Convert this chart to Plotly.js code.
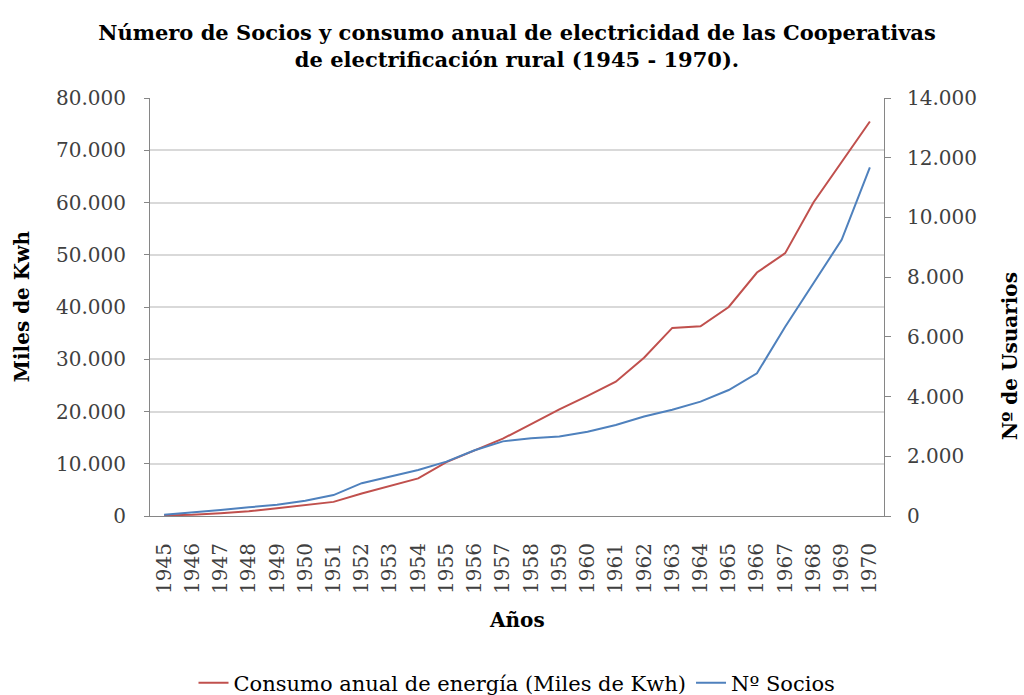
<!DOCTYPE html>
<html>
<head>
<meta charset="utf-8">
<script src="https://cdn.plot.ly/plotly-3.0.1.min.js"></script>
<style>html,body{margin:0;padding:0;background:#fff;}#chart{width:1024px;height:695px;}</style>
</head>
<body>
<div id="chart"></div>
<script>
var years = ["1945","1946","1947","1948","1949","1950","1951","1952","1953","1954","1955","1956","1957","1958","1959","1960","1961","1962","1963","1964","1965","1966","1967","1968","1969","1970"];
var consumo = [100, 250, 550, 900, 1500, 2100, 2700, 4300, 5800, 7200, 10300, 12500, 14800, 17600, 20400, 23000, 25700, 30300, 36000, 36300, 40000, 46600, 50300, 60000, 67700, 75500];
var socios = [40, 110, 200, 290, 380, 510, 700, 1100, 1320, 1540, 1820, 2200, 2500, 2600, 2660, 2820, 3050, 3330, 3560, 3830, 4220, 4780, 6340, 7800, 9250, 11680];
var nameConsumo = "Consumo anual de energía (Miles de Kwh)";
var nameSocios = "Nº Socios";

var serif = "DejaVu Serif, Liberation Serif, serif";
var tickFont = {family: serif, size: 20, color: "#404040"};

var traces = [
  {x: years, y: consumo, name: nameConsumo, type: "scatter", mode: "lines",
   line: {color: "#C0504D", width: 2}, yaxis: "y"},
  {x: years, y: socios, name: nameSocios, type: "scatter", mode: "lines",
   line: {color: "#4F81BD", width: 2}, yaxis: "y2"}
];

var layout = {
  width: 1024, height: 695,
  margin: {l: 150, r: 140, t: 98, b: 179},
  paper_bgcolor: "#fff", plot_bgcolor: "#fff",
  separators: ",.",
  showlegend: true,
  title: {text: "<b>Número de Socios y consumo anual de electricidad de las Cooperativas<br>de electrificación rural (1945 - 1970).</b>",
          font: {family: serif, size: 21, color: "#000"},
          x: 0.5, xref: "paper", xanchor: "center", y: 0.943, yref: "container", yanchor: "middle"},
  xaxis: {type: "category", range: [-0.5, 25.5], tickangle: -90, tickfont: tickFont,
          showgrid: false, showline: true, linecolor: "#868686", linewidth: 1,
          ticks: "", ticklabelstandoff: 18, zeroline: false, automargin: false},
  yaxis: {range: [0, 80000], dtick: 10000, tickformat: ",.0f", tickfont: tickFont,
          showgrid: true, gridcolor: "#D9D9D9", gridwidth: 2,
          showline: true, linecolor: "#868686", linewidth: 1, automargin: false,
          ticks: "outside", ticklen: 5, tickcolor: "#868686", ticklabelstandoff: 14, zeroline: false},
  yaxis2: {range: [0, 14000], dtick: 2000, tickformat: ",.0f", tickfont: tickFont,
          overlaying: "y", side: "right", showgrid: false, automargin: false,
          showline: true, linecolor: "#868686", linewidth: 1,
          ticks: "outside", ticklen: 6, tickcolor: "#868686", ticklabelstandoff: 12, zeroline: false},
  legend: {orientation: "h", x: 0.5, xanchor: "center", xref: "paper",
           y: 0.0173, yref: "container", yanchor: "middle", entrywidth: 0,
           font: {family: serif, size: 21, color: "#000"}, bgcolor: "rgba(0,0,0,0)"},
  annotations: [
    {text: "<b>Miles de Kwh</b>", xref: "paper", yref: "paper", x: -0.1744, y: 0.502,
     xanchor: "center", yanchor: "middle", textangle: -90, showarrow: false,
     font: {family: serif, size: 20, color: "#000"}},
    {text: "<b>Nº de Usuarios</b>", xref: "paper", yref: "paper", x: 1.1717, y: 0.383,
     xanchor: "center", yanchor: "middle", textangle: -90, showarrow: false,
     font: {family: serif, size: 20, color: "#000"}},
    {text: "<b>Años</b>", xref: "paper", yref: "paper", x: 0.5, y: -0.249,
     xanchor: "center", yanchor: "middle", showarrow: false,
     font: {family: serif, size: 20, color: "#000"}}
  ]
};

Plotly.newPlot("chart", traces, layout, {displayModeBar: false, staticPlot: true});
</script>
</body>
</html>
